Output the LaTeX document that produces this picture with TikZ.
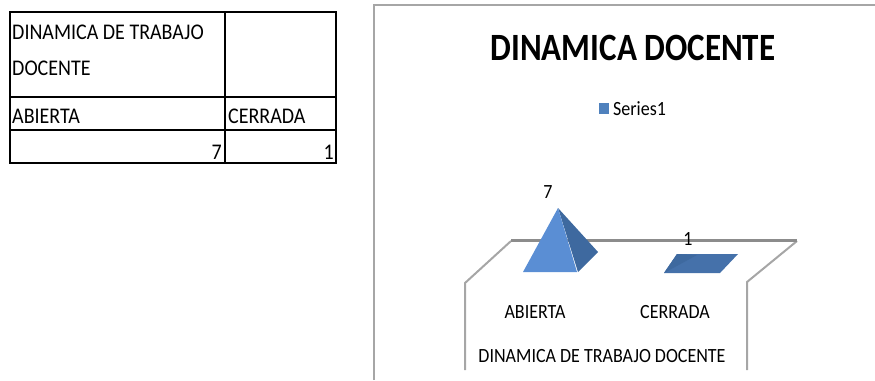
\documentclass[tikz,border=0pt]{standalone}
\usepackage{fontspec}
\usepackage{graphicx}
\setmainfont{Carlito}
\definecolor{pyrlight}{HTML}{5A8ED4}
\definecolor{pyrdark}{HTML}{3E699F}
\definecolor{pyrmid}{HTML}{4571AA}
\definecolor{legblue}{HTML}{4F81BD}
\definecolor{axisgray}{HTML}{8C8C8C}
\definecolor{framegray}{HTML}{A6A6A6}
\newcommand{\vstretch}[1]{\scalebox{1}[1.12]{#1}}
\tikzset{
  cell/.style={inner sep=0pt, font=\fontsize{20}{24}\selectfont},
  lbl/.style={inner sep=0pt, font=\fontsize{18}{22}\selectfont},
  tline/.style={line width=1.5pt, black},
  wall/.style={line width=2pt, framegray},
}
\begin{document}
\begin{tikzpicture}[x=1pt,y=-1pt]
\useasboundingbox (0,0) rectangle (875,380);
% ---- table ----
\draw[tline] (10,12) rectangle (336,163);
\draw[tline] (225,12) -- (225,163);
\draw[tline] (10,97) -- (336,97);
\draw[tline] (10,130) -- (336,130);
\node[cell, anchor=base west] (h1) at (12,39) {\vstretch{DINAMICA DE TRABAJO}};
\node[cell, anchor=base west] (h2) at (12,75) {\vstretch{DOCENTE}};
\node[cell, anchor=base west] (c1) at (12,123) {\vstretch{ABIERTA}};
\node[cell, anchor=base west] (c2) at (228,123) {\vstretch{CERRADA}};
\node[cell, anchor=base east] (v1) at (222,159) {\vstretch{7}};
\node[cell, anchor=base east] (v2) at (334,159) {\vstretch{1}};
% ---- chart frame ----
\draw[line width=2pt, framegray] (374,380) -- (374,5) -- (875,5);
\node[inner sep=0pt, anchor=base, font=\bfseries\fontsize{33}{38}\selectfont] (title) at (633,60) {\scalebox{1}[1.17]{DINAMICA DOCENTE}};
\fill[legblue] (599,103) rectangle (609,114);
\node[lbl, anchor=base west] (leg) at (613,115) {\vstretch{Series1}};
% ---- 3D floor / walls ----
\draw[wall] (465,370) -- (465,283) -- (511,241);
\draw[wall] (747,370) -- (747,282) -- (797,241);
\draw[line width=3pt, axisgray] (511,240) -- (797,240);
% ---- pyramid 7 ----
\fill[pyrdark] (558,208) -- (598,252) -- (578,272) -- cycle;
\fill[pyrlight] (558,208) -- (577,272) -- (523,272) -- cycle;
% ---- flat pyramid 1 ----
\fill[pyrmid] (664,273) -- (720,273) -- (738,254) -- (677,254) -- cycle;
\fill[pyrdark] (664,273) -- (677,254) -- (697,255) -- cycle;
% ---- labels ----
\node[lbl, anchor=base] (d1) at (548,198) {\vstretch{7}};
\node[lbl, anchor=base] (d2) at (688,245) {\vstretch{1}};
\node[lbl, anchor=base] (x1) at (535,318) {\vstretch{ABIERTA}};
\node[lbl, anchor=base] (x2) at (675,318) {\vstretch{CERRADA}};
\node[lbl, anchor=base] (xt) at (602,362) {\vstretch{DINAMICA DE TRABAJO DOCENTE}};
\end{tikzpicture}
\end{document}
